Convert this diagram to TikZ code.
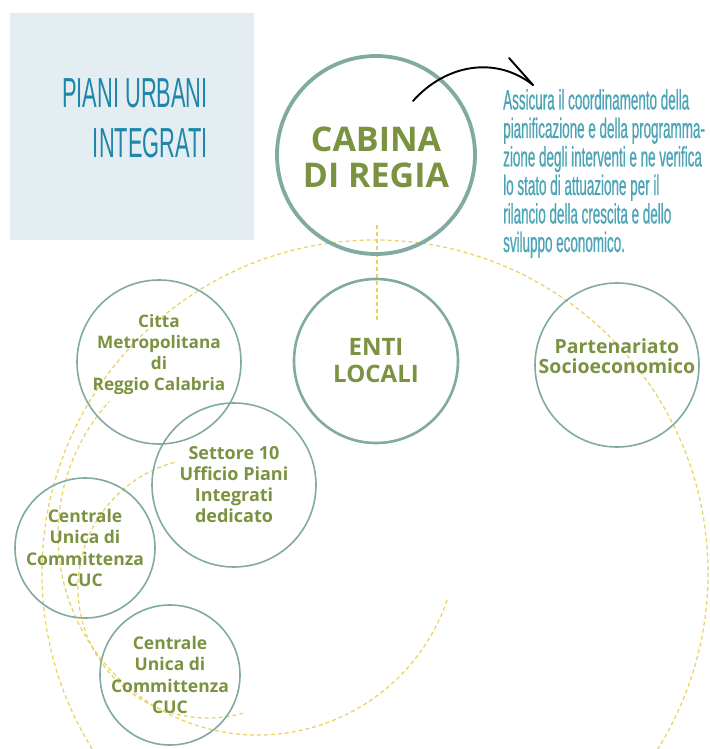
\documentclass[tikz,border=0pt]{standalone}
\usepackage{fontspec}
\usepackage{xcolor}
\usetikzlibrary{positioning,arrows.meta,calc}
\setmainfont{Open Sans}
\newfontfamily\titlefont[FakeStretch=0.52]{Liberation Sans}
\newfontfamily\notefont[FakeStretch=0.48,FakeBold=0.6]{Liberation Sans}

\definecolor{boxgrey}{HTML}{E4EDF1}
\definecolor{titleblue}{HTML}{1E86A8}
\definecolor{noteblue}{HTML}{4BA5B6}
\definecolor{ringteal}{HTML}{80AAA2}
\definecolor{olivetext}{HTML}{7B9240}
\definecolor{dashyellow}{HTML}{E9D25E}

\tikzset{
  ring/.style={circle, draw=ringteal, line width=1.6pt, inner sep=0pt},
  bigring/.style={ring, line width=3.8pt},
  ringtext/.style={text=olivetext, align=center, inner sep=0pt},
  guide/.style={draw=dashyellow, line width=1.2pt, dash pattern=on 4pt off 3pt},
}

\begin{document}
\begin{tikzpicture}[x=1pt,y=-1pt]
\useasboundingbox (0,0) rectangle (709,749);
\fill[white] (0,0) rectangle (709,749);
\clip (0,0) rectangle (709,749);

% Title box
\fill[boxgrey] (10,13) rectangle (254,240);
\node[anchor=east, align=right, inner sep=0pt, text=titleblue,
  font=\titlefont\fontsize{42}{50}\selectfont] (title) at (208,118) {PIANI URBANI\\INTEGRATI};

% Dashed guides
\draw[guide] (375,573) circle[radius=333];
\draw[guide] (258,535) ++(19:200) arc[start angle=19, end angle=222, radius=200];
\draw[guide] (208,588) ++(255:130) arc[start angle=255, end angle=73, radius=130];
\draw[guide] (377,225) -- (377,320);

% Circles
\node[bigring, minimum size=198] (cabina) at (376,155) {};
\node[ring, line width=2.6pt, minimum size=164] (enti) at (376,361) {};
\node[ring, minimum size=164] (partner) at (617,365) {};
\node[ring, minimum size=164] (citta) at (159,362) {};
\node[ring, minimum size=164] (settore) at (234,485) {};
\node[ring, minimum size=140] (cuc1) at (85,548) {};
\node[ring, minimum size=140] (cuc2) at (170,675) {};

% Circle labels
\node[ringtext, font=\bfseries\fontsize{34}{36}\selectfont] (cabina-t) at ([yshift=-2.5pt]cabina.center) {CABINA\\DI REGIA};
\node[ringtext, font=\bfseries\fontsize{24}{27}\selectfont] (enti-t) at (enti.center) {ENTI\\LOCALI};
\node[ringtext, font=\bfseries\fontsize{19.5}{20}\selectfont] (partner-t) at ([yshift=9pt]partner.center) {Partenariato\\Socioeconomico};
\node[ringtext, font=\bfseries\fontsize{17.2}{21}\selectfont] (citta-t) at ([yshift=7pt]citta.center) {Citta\\Metropolitana\\di\\Reggio Calabria};
\node[ringtext, font=\bfseries\fontsize{18}{21}\selectfont] (settore-t) at (settore.center) {Settore 10\\Ufficio Piani\\Integrati\\dedicato};
\node[ringtext, font=\bfseries\fontsize{17.5}{21.5}\selectfont] (cuc1-t) at (cuc1.center) {Centrale\\Unica di\\Committenza\\CUC};
\node[ringtext, font=\bfseries\fontsize{17.5}{21.5}\selectfont] (cuc2-t) at (cuc2.center) {Centrale\\Unica di\\Committenza\\CUC};

% Note
\node[anchor=north west, align=left, inner sep=0pt, text=noteblue,
  font=\notefont\fontsize{28}{28.5}\selectfont] (note) at (503,89)
  {Assicura il coordinamento della\\pianificazione e della programma-\\zione degli interventi e ne verifica\\lo stato di attuazione per il\\rilancio della crescita e dello\\sviluppo economico.};

% Arrow
\coordinate (arrow-start) at (413,101);
\coordinate (arrow-tip) at (533,85);
\coordinate (arrow-barb) at (509,58);
\draw[line width=1.9pt, line cap=round] (arrow-start) .. controls (445,65) and (495,55) .. (arrow-tip);
\draw[line width=1.9pt, line cap=round] (arrow-barb) -- (arrow-tip);
\end{tikzpicture}
\end{document}
